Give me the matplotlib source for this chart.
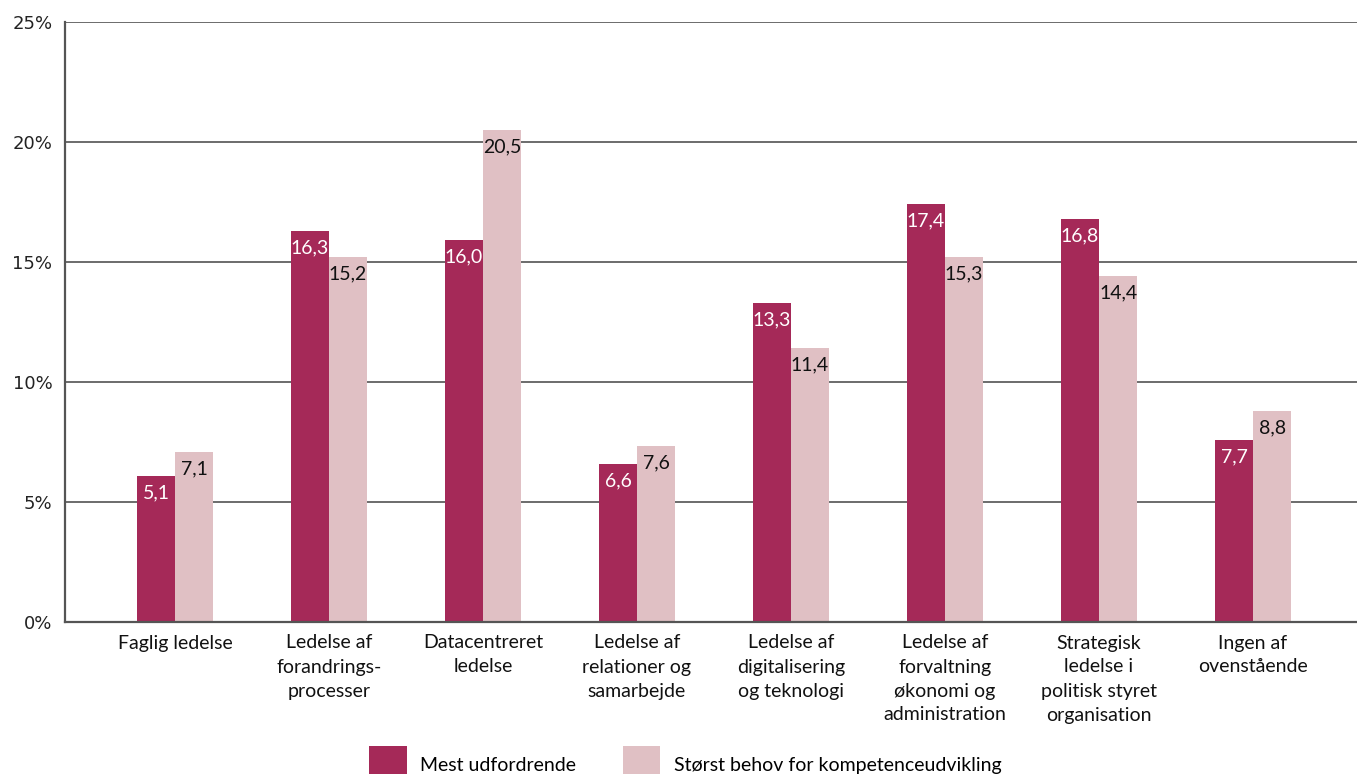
import numpy as np
import matplotlib.pyplot as plt
from matplotlib.ticker import FuncFormatter

categories = [
    "Faglig ledelse",
    "Ledelse af\nforandrings-\nprocesser",
    "Datacentreret\nledelse",
    "Ledelse af\nrelationer og\nsamarbejde",
    "Ledelse af\ndigitalisering\nog teknologi",
    "Ledelse af\nforvaltning\nøkonomi og\nadministration",
    "Strategisk\nledelse i\npolitisk styret\norganisation",
    "Ingen af\novenstående",
]
series_names = ["Mest udfordrende", "Størst behov for kompetenceudvikling"]
# bar heights as drawn in the picture
mest = [6.1, 16.3, 15.9, 6.6, 13.3, 17.4, 16.8, 7.6]
stoerst = [7.1, 15.2, 20.5, 7.35, 11.4, 15.2, 14.4, 8.8]
# printed value labels
mest_labels = ["5,1", "16,3", "16,0", "6,6", "13,3", "17,4", "16,8", "7,7"]
stoerst_labels = ["7,1", "15,2", "20,5", "7,6", "11,4", "15,3", "14,4", "8,8"]

dark = "#A52958"
light = "#E0C0C4"
cat_font = "Lato"

fig = plt.figure(figsize=(13.57, 7.74), dpi=100)
ax = fig.add_axes([65 / 1357, 1 - 622 / 774, 1292 / 1357, 600 / 774])

x = np.arange(len(categories))
w = 0.247
b1 = ax.bar(x - w / 2, mest, w, color=dark, zorder=2, label=series_names[0])
b2 = ax.bar(x + w / 2, stoerst, w, color=light, zorder=2, label=series_names[1])

for bars, labs, col in [(b1, mest_labels, "white"), (b2, stoerst_labels, "#111111")]:
    for bar, lab in zip(bars, labs):
        ax.annotate(lab, (bar.get_x() + bar.get_width() / 2, bar.get_height()),
                    xytext=(0, -6), textcoords="offset points", ha="center", va="top",
                    color=col, fontsize=14, family=cat_font, zorder=3)

ax.set_xlim(-0.714, 7.675)
ax.set_ylim(0, 25)
ax.set_yticks([0, 5, 10, 15, 20, 25])
ax.yaxis.set_major_formatter(FuncFormatter(lambda v, p: f"{v:.0f}%"))
ax.tick_params(axis="y", length=0, pad=9, labelsize=13, labelcolor="#222222")
ax.tick_params(axis="x", length=0, pad=9)
ax.set_xticks(x)
ax.set_xticklabels(categories, fontsize=14, family=cat_font, color="#111111",
                   linespacing=1.5)

ax.yaxis.grid(True, color="#444444", linewidth=1.1, zorder=0)
ax.set_axisbelow(True)
for s in ["top", "right"]:
    ax.spines[s].set_visible(False)
for s in ["left", "bottom"]:
    ax.spines[s].set_color("#555555")
    ax.spines[s].set_linewidth(1.6)

fig.legend(handles=[b1, b2], labels=series_names, loc="upper left",
           bbox_to_anchor=(359 / 1357, 1 - 736 / 774), ncol=2, frameon=False,
           borderpad=0, handlelength=1.95, handleheight=2.7, handletextpad=0.68,
           columnspacing=2.4, prop={"family": cat_font, "size": 14})

fig.savefig("out.png", dpi=100)
